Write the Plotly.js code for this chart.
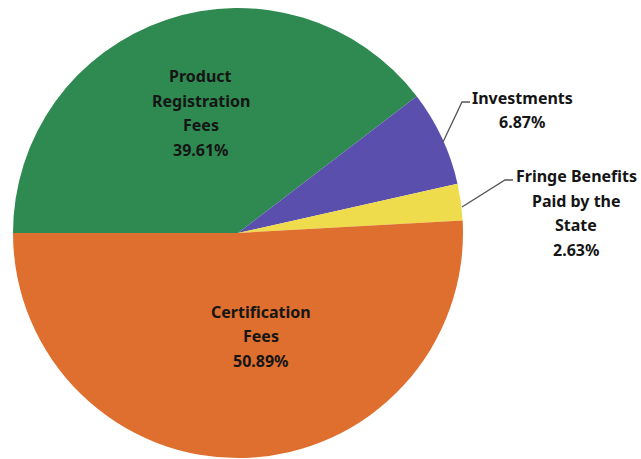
<!DOCTYPE html>
<html><head><meta charset="utf-8">
<script src="https://cdn.plot.ly/plotly-3.0.1.min.js"></script>
<style>html,body{margin:0;padding:0;background:#fff}#chart{width:641px;height:459px}</style>
</head><body><div id="chart"></div>
<script>
// Data
const labels = ["Product Registration Fees", "Investments", "Fringe Benefits Paid by the State", "Certification Fees"];
const labelLines = [["Product", "Registration", "Fees"], ["Investments"], ["Fringe Benefits", "Paid by the", "State"], ["Certification", "Fees"]];
const values = [39.61, 6.87, 2.63, 50.89];
const colors = ["#2e8a50", "#5b4fae", "#efdc4c", "#de6f2e"];

// Label block centres (pixels) and line spacing
const W = 641, H = 459;
const labelPos = [[201, 113], [522, 110], [576, 213], [261, 336]];
const lineGap = 24.5;
const leaders = [null, [[443,142],[462,102],[470,102]], [[462,207],[505,180],[513,180]], null];

const font = {family: "Noto Sans, Open Sans, sans-serif", size: 16, color: "#151515"};
const annotations = [];
labels.forEach((l, i) => {
  const lines = labelLines[i].concat([values[i].toFixed(2) + "%"]);
  const n = lines.length;
  lines.forEach((t, k) => {
    const py = labelPos[i][1] + (k - (n - 1) / 2) * lineGap;
    annotations.push({xref: "paper", yref: "paper", x: labelPos[i][0] / W, y: 1 - py / H,
      text: "<b>" + t + "</b>", showarrow: false, font: font, align: "center",
      xanchor: "center", yanchor: "middle"});
  });
});

const shapes = [];
leaders.forEach(pts => {
  if (!pts) return;
  const d = pts.map((p, k) => (k ? "L" : "M") + (p[0] / W) + "," + (1 - p[1] / H)).join(" ");
  shapes.push({type: "path", xref: "paper", yref: "paper", path: d, line: {color: "#555", width: 1.3}});
});

const trace = {
  type: "pie", labels: labels, values: values, sort: false, direction: "clockwise",
  rotation: -90, marker: {colors: colors, line: {width: 0}}, textinfo: "none", hoverinfo: "label+percent",
  domain: {x: [13/641, 463/641], y: [1-458/459, 1-8/459]}, showlegend: false
};
const layout = {
  width: 641, height: 459, margin: {l: 0, r: 0, t: 0, b: 0},
  paper_bgcolor: "#fff", showlegend: false, annotations: annotations, shapes: shapes
};
Plotly.newPlot("chart", [trace], layout, {staticPlot: true});
</script></body></html>
